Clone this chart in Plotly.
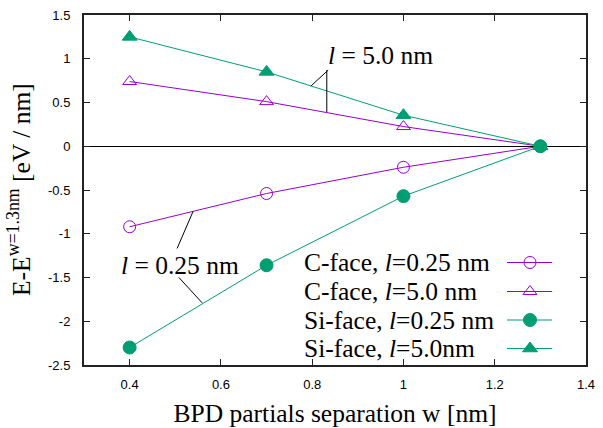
import plotly.graph_objects as go

w = [0.4, 0.7, 1.0, 1.3]
c_025 = [-0.92, -0.54, -0.24, 0.0]
c_50 = [0.74, 0.51, 0.225, 0.0]
si_025 = [-2.30, -1.36, -0.57, 0.0]
si_50 = [1.25, 0.85, 0.355, 0.0]

x_ticks = [0.4, 0.6, 0.8, 1.0, 1.2, 1.4]
x_tick_labels = ["0.4", "0.6", "0.8", "1", "1.2", "1.4"]
y_ticks = [-2.5, -2, -1.5, -1, -0.5, 0, 0.5, 1, 1.5]
y_tick_labels = ["-2.5", "-2", "-1.5", "-1", "-0.5", "0", "0.5", "1", "1.5"]

legend_labels = ["C-face, <i>l</i>=0.25 nm", "C-face, <i>l</i>=5.0 nm",
                 "Si-face, <i>l</i>=0.25 nm", "Si-face, <i>l</i>=5.0nm"]

PURPLE = "#9400D3"
GREEN = "#009E73"
SERIF = "Liberation Serif, Times New Roman, serif"
SANS = "Liberation Sans, Arial, sans-serif"
FS = 25.5

series = [
    (c_025, PURPLE, "circle-open", 12),
    (c_50, PURPLE, "triangle-up-open", 12),
    (si_025, GREEN, "circle", 13),
    (si_50, GREEN, "triangle-up", 13),
]

fig = go.Figure()
for (vals, col, sym, sz), name in zip(series, legend_labels):
    fig.add_trace(go.Scatter(
        x=w, y=vals, mode="lines+markers", name=name, showlegend=False,
        line=dict(color=col, width=1),
        marker=dict(symbol=sym, size=sz, color=col, line=dict(color=col, width=1)),
    ))

# plot area in window pixels (body margin removed by post_script)
L, R, T, B = 84, 586, 15, 365
row_y = [262.5, 291.5, 320, 348.5]
for i, ((vals, col, sym, sz), name) in enumerate(zip(series, legend_labels)):
    ry = row_y[i]
    fig.add_trace(go.Scatter(
        x=[507, 552], y=[ry, ry], xaxis="x2", yaxis="y2",
        mode="lines", line=dict(color=col, width=1), showlegend=False, hoverinfo="skip"))
    fig.add_trace(go.Scatter(
        x=[530], y=[ry], xaxis="x2", yaxis="y2",
        mode="markers", marker=dict(symbol=sym, size=sz, color=col, line=dict(color=col, width=1)),
        showlegend=False, hoverinfo="skip"))
    fig.add_annotation(x=302, y=ry, xref="x2", yref="y2", text=name,
                       showarrow=False, xanchor="left", yanchor="middle",
                       font=dict(family=SERIF, size=FS, color="black"))

# y-axis title as a rotated annotation for precise placement
fig.add_annotation(x=(19 - L) / (R - L), y=(B - 190) / (B - T), xref="paper", yref="paper",
                   text="E-E<sup>w=1.3nm</sup> [eV / nm]", textangle=-90, showarrow=False,
                   xanchor="center", yanchor="middle",
                   font=dict(family=SERIF, size=FS, color="black"))

# label annotations with pointer lines
fig.add_annotation(x=0.949, y=1.04, text="<i>l</i> = 5.0 nm", showarrow=False,
                   font=dict(family=SERIF, size=FS, color="black"))
fig.add_annotation(x=0.51, y=-1.36, text="<i>l</i> = 0.25 nm", showarrow=False,
                   font=dict(family=SERIF, size=FS, color="black"))
for x0, y0, x1, y1 in [(0.832, 0.87, 0.832, 0.39), (0.835, 0.87, 0.797, 0.687),
                       (0.504, -1.168, 0.539, -0.745), (0.508, -1.50, 0.559, -1.79)]:
    fig.add_shape(type="line", x0=x0, y0=y0, x1=x1, y1=y1, xref="x", yref="y",
                  line=dict(color="black", width=1))

fig.update_layout(
    width=603, height=428,
    margin=dict(l=L, r=603 - R, t=T, b=428 - B, autoexpand=False),
    plot_bgcolor="white", paper_bgcolor="white",
    showlegend=False,
    xaxis=dict(range=[0.3, 1.4], tickvals=x_ticks, ticktext=x_tick_labels,
               ticks="inside", ticklen=6, tickcolor="#222", mirror="ticks",
               showline=True, linecolor="#222", linewidth=2, showgrid=False, zeroline=False,
               ticklabelstandoff=6, automargin=False,
               tickfont=dict(family=SANS, size=13, color="black"),
               title=dict(text="BPD partials separation w [nm]",
                          font=dict(family=SERIF, size=FS, color="black"), standoff=14)),
    yaxis=dict(range=[-2.5, 1.5], tickvals=y_ticks, ticktext=y_tick_labels,
               ticks="inside", ticklen=6, tickcolor="#222", mirror="ticks",
               showline=True, linecolor="#222", linewidth=2, showgrid=False,
               zeroline=True, zerolinecolor="black", zerolinewidth=1,
               ticklabelstandoff=9, automargin=False,
               tickfont=dict(family=SANS, size=13, color="black")),
    xaxis2=dict(overlaying="x", range=[L, R], visible=False, fixedrange=True),
    yaxis2=dict(overlaying="y", range=[B, T], visible=False, fixedrange=True),
)

fig.write_html("out.html", config={"displayModeBar": False},
               post_script="document.body.style.margin='0px';")
